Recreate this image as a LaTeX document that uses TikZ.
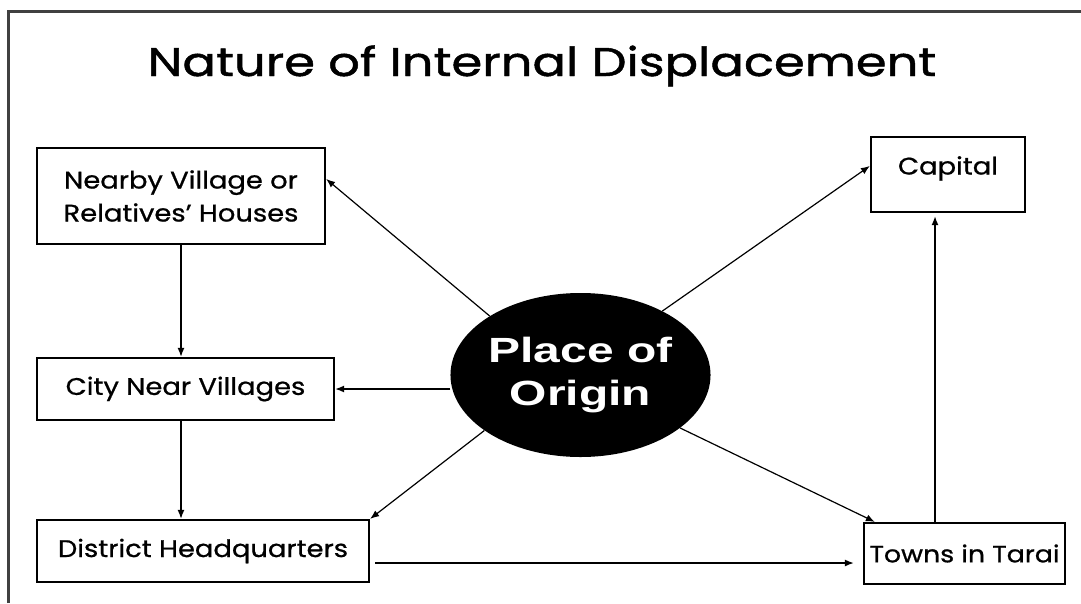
\documentclass[tikz,border=0pt]{standalone}
\usepackage{fontspec}
\setmainfont{Poppins}
\newfontfamily\titlefont[FakeStretch=1.24,FakeBold=1.2,Ligatures=TeX]{Poppins}
\newfontfamily\boxfont[FakeStretch=1.14,FakeBold=0.8,Ligatures=TeX]{Poppins}
\newfontfamily\originfont[FakeStretch=1.37]{Liberation Sans}
\usetikzlibrary{arrows.meta,shapes.geometric}

\begin{document}
\begin{tikzpicture}[x=1pt,y=-1pt,
  place/.style={draw,line width=2.2pt,inner sep=0pt,align=center,
    font=\boxfont\fontsize{24}{33}\selectfont},
  origin/.style={ellipse,fill=black,text=white,inner sep=0pt,align=center,
    font=\originfont\bfseries\fontsize{35}{43}\selectfont},
  arr/.style={-{Latex[length=9pt,width=7pt]},line width=1.5pt},
  diag/.style={arr,line width=1.2pt}]

\useasboundingbox (0,0) rectangle (1081,603);

% frame
\draw[line width=3pt,black!75] (8.5,603) -- (8.5,11) -- (1081,11);

\node[anchor=base,font=\titlefont\fontsize{40}{40}\selectfont] (title) at (542,76) {Nature of Internal Displacement};

\node[origin,minimum width=255pt,minimum height=164pt] (orig) at (580.5,375) {Place of\\Origin};

\node[place,minimum width=288pt,minimum height=96pt] (nearby) at (181,196) {Nearby Village or\\Relatives’ Houses};
\node[place,minimum width=297pt,minimum height=62pt] (city) at (185.5,389) {City Near Villages};
\node[place,minimum width=332pt,minimum height=62pt] (district) at (203,551) {District Headquarters};
\node[place,minimum width=154pt,minimum height=75pt,text height=17pt,text depth=17pt] (capital) at (948,174.5) {Capital};
\node[place,minimum width=201pt,minimum height=61pt,font=\boxfont\fontsize{23.5}{33}\selectfont] (towns) at (964.5,553.5) {Towns in Tarai};

% out of the place of origin
\draw[diag] (orig.147) -- ([yshift=-32pt]nearby.north east);
\draw[diag] (orig.38) -- ([yshift=-30pt]capital.north west);
\draw[arr] (city.east -| orig.west) -- (city.east);
\draw[diag] (orig.210) -- (district.north east);
\draw[diag] (orig.332) -- ([xshift=12pt]towns.north west);

% onward moves
\draw[arr] (nearby.south) -- (nearby.south |- city.north);
\draw[arr] (city.south -| nearby.south) -- (nearby.south |- district.north);
\draw[arr,shorten <=5pt,shorten >=9pt] ([yshift=-12pt]district.east) -- ([yshift=-12pt]district.east -| towns.west);
\draw[arr,shorten >=3pt] ([xshift=-13pt]capital.south |- towns.north) -- ([xshift=-13pt]capital.south);

\end{tikzpicture}
\end{document}
